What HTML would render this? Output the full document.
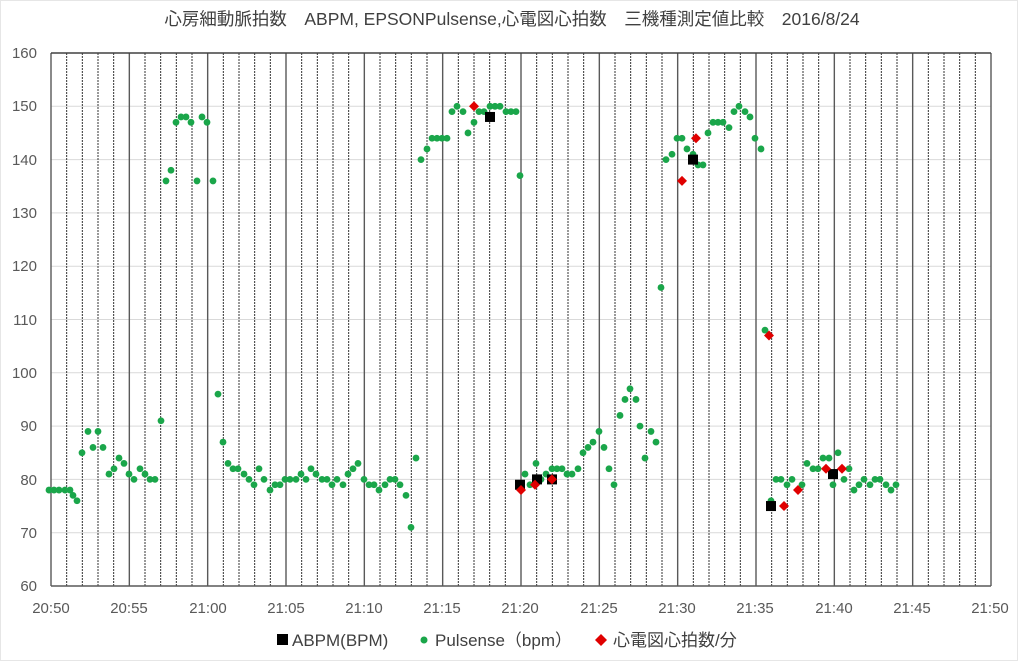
<!DOCTYPE html>
<html><head><meta charset="utf-8"><style>
body{margin:0;background:#fff;}
svg{display:block;font-family:"Liberation Sans","Noto Sans CJK JP",sans-serif;}
</style></head><body>
<svg id="s" width="1024" height="661" viewBox="0 0 1024 661" xmlns="http://www.w3.org/2000/svg">
<rect x="0" y="0" width="1024" height="661" fill="#fff"/>
<rect x="0.5" y="0.5" width="1017" height="660" fill="none" stroke="#e6e6e6"/>
<text x="512" y="25" text-anchor="middle" font-size="17.5" fill="#404040">心房細動脈拍数　ABPM, EPSONPulsense,心電図心拍数　三機種測定値比較　2016/8/24</text>
<g id="grid"></g>
<g font-size="15" fill="#595959" text-anchor="end">
<text x="37" y="58">160</text><text x="37" y="111">150</text><text x="37" y="165">140</text>
<text x="37" y="218">130</text><text x="37" y="271">120</text><text x="37" y="325">110</text>
<text x="37" y="378">100</text><text x="37" y="431">90</text><text x="37" y="485">80</text>
<text x="37" y="538">70</text><text x="37" y="591">60</text>
</g>
<g font-size="15" fill="#595959" text-anchor="middle">
<text x="51" y="613">20:50</text><text x="129" y="613">20:55</text><text x="208" y="613">21:00</text>
<text x="286" y="613">21:05</text><text x="364" y="613">21:10</text><text x="442" y="613">21:15</text>
<text x="520" y="613">21:20</text><text x="599" y="613">21:25</text><text x="677" y="613">21:30</text>
<text x="755" y="613">21:35</text><text x="834" y="613">21:40</text><text x="912" y="613">21:45</text>
<text x="990" y="613">21:50</text>
</g>
<g id="pts"></g>
<g font-size="17" fill="#404040">
<rect x="277" y="634" width="11" height="11" fill="#000"/>
<text x="292" y="646">ABPM(BPM)</text>
<circle cx="424" cy="640" r="3.5" fill="#1aa64a"/>
<text x="435" y="646">Pulsense（bpm）</text>
<path d="M601 634 L607 640 L601 646 L595 640Z" fill="#e00000"/>
<text x="613" y="646">心電図心拍数/分</text>
</g>
</svg>
<script>
var NS="http://www.w3.org/2000/svg";
function el(p,t,a){var e=document.createElementNS(NS,t);for(var k in a)e.setAttribute(k,a[k]);p.appendChild(e);return e;}
var g=document.getElementById('grid'),P=document.getElementById('pts');
var L=51,R=991,T=53,B=586;
function Y(v){return T+(160-v)*(B-T)/100;}
for(var v=70;v<160;v+=10)el(g,'line',{x1:L,x2:R,y1:Y(v),y2:Y(v),stroke:'#d9d9d9','stroke-width':1});
for(var m=0;m<=60;m++){var x=L+m*(R-L)/60;
 if(m%5==0)el(g,'line',{x1:x,x2:x,y1:T,y2:B,stroke:'#595959','stroke-width':1.4});
 else el(g,'line',{x1:x,x2:x,y1:T,y2:B,stroke:'#333','stroke-width':1,'stroke-dasharray':'2,1'});}
el(g,'line',{x1:L,x2:R,y1:T,y2:T,stroke:'#404040','stroke-width':1.5});
el(g,'line',{x1:L,x2:R,y1:B,y2:B,stroke:'#595959','stroke-width':1.5});
var G=[[49,78],[54,78],[59,78],[65,78],[70,78],[73,77],[77,76],[82,85],[88,89],[93,86],[98,89],[103,86],[109,81],[114,82],[119,84],[124,83],[129,81],[134,80],[140,82],[145,81],[150,80],[155,80],[161,91],
[166,136],[171,138],[176,147],[181,148],[186,148],[191,147],[197,136],[202,148],[207,147],[213,136],
[218,96],[223,87],[228,83],[233,82],[238,82],[244,81],[249,80],[254,79],[259,82],[264,80],[270,78],[275,79],[280,79],[285,80],[290,80],[296,80],[301,81],[306,80],[311,82],[316,81],[322,80],[327,80],[332,79],[337,80],[343,79],[348,81],[353,82],[358,83],[364,80],[369,79],[374,79],[379,78],[385,79],[390,80],[395,80],[400,79],[406,77],[411,71],[416,84],
[421,140],[427,142],[432,144],[437,144],[442,144],[447,144],[452,149],[457,150],[463,149],[468,145],[474,147],[479,149],[484,149],[490,150],[495,150],[500,150],[506,149],[511,149],[516,149],[520,137],
[525,81],[530,79],[536,83],[541,80],[546,81],[552,82],[557,82],[562,82],[567,81],[572,81],[578,82],[583,85],[588,86],[593,87],[599,89],[604,86],[609,82],[614,79],[620,92],[625,95],[630,97],[636,95],[640,90],[645,84],[651,89],[656,87],
[661,116],[666,140],[672,141],[677,144],[682,144],[687,142],[693,141],[698,139],[703,139],[708,145],[713,147],[718,147],[723,147],[729,146],[734,149],[739,150],[745,149],[750,148],[755,144],[761,142],[765,108],
[771,76],[776,80],[781,80],[787,79],[792,80],[802,79],[807,83],[813,82],[818,82],[823,84],[829,84],[838,85],[833,79],[844,80],[849,82],[854,78],[859,79],[864,80],[870,79],[875,80],[880,80],[886,79],[891,78],[896,79]];
G.forEach(function(p){el(P,'circle',{cx:p[0],cy:Y(p[1]),r:3.4,fill:'#1aa64a'});});
var Bk=[[490,148],[520,79],[537,80],[552,80],[693,140],[771,75],[833,81]];
Bk.forEach(function(p){el(P,'rect',{x:p[0]-5,y:Y(p[1])-5,width:10,height:10,fill:'#000'});});
var Rd=[[474,150],[521,78],[535,79],[552,80],[682,136],[696,144],[769,107],[784,75],[798,78],[826,82],[842,82]];
Rd.forEach(function(p){var x=p[0],y=Y(p[1]);el(P,'path',{d:'M'+x+' '+(y-5)+' L'+(x+5)+' '+y+' L'+x+' '+(y+5)+' L'+(x-5)+' '+y+'Z',fill:'#e00000'});});
</script>
</body></html>
